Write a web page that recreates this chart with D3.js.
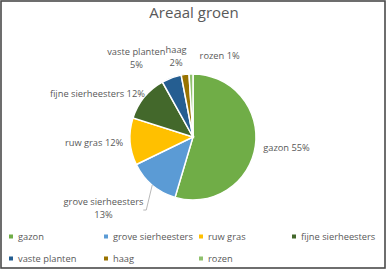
<!DOCTYPE html>
<html>
<head>
<meta charset="utf-8">
<script src="https://cdn.jsdelivr.net/npm/d3@7"></script>
<style>
  body { margin: 0; background: #fff; }
  svg text { font-family: "Open Sans", "Noto Sans", sans-serif; fill: #595959; }
</style>
</head>
<body>
<svg id="chart" width="387" height="270"></svg>
<script>
  // chart data
  var categories = ["gazon", "grove sierheesters", "ruw gras", "fijne sierheesters", "vaste planten", "haag", "rozen"];
  var shares = [54.6, 13.2, 12.1, 12.0, 5.1, 2.0, 1.0];
  var pctLabels = ["55%", "13%", "12%", "12%", "5%", "2%", "1%"];
  var colors = ["#70ad47", "#5b9bd5", "#ffc000", "#43682b", "#255e91", "#997300", "#8fc16d"];

  // label layout: [dx, dy, anchor, twoLines] relative to the outer point of each slice
  var labelLayout = [
    [-4, 3, "start", false],
    [-41, 11, "middle", true],
    [5, 3.5, "end", false],
    [10, 7, "end", false],
    [-31, -11.5, "middle", true],
    [-7.5, -9.5, "middle", true],
    [29, -3, "middle", false]
  ];

  var width = 387, height = 270;
  var svg = d3.select("#chart");

  // frame
  svg.append("rect")
    .attr("x", 1).attr("y", 1)
    .attr("width", width - 3).attr("height", height - 3)
    .attr("fill", "#fff")
    .attr("stroke", "#4a4a4a")
    .attr("stroke-width", 1.6);

  svg.append("text")
    .attr("x", 194).attr("y", 18)
    .attr("text-anchor", "middle")
    .style("font-size", "15px")
    .text("Areaal groen");

  var cx = 193, cy = 137, radius = 63;

  var pie = d3.pie().sort(null).value(function(d) { return d; });
  var arcs = pie(shares);
  var arc = d3.arc().innerRadius(0).outerRadius(radius);

  var g = svg.append("g").attr("transform", "translate(" + cx + "," + cy + ")");

  g.selectAll("path.slice")
    .data(arcs)
    .enter().append("path")
    .attr("class", "slice")
    .attr("d", arc)
    .attr("fill", function(d, i) { return colors[i]; })
    .attr("stroke", "#fff")
    .attr("stroke-width", 1.5);

  // data labels
  var outer = d3.arc().innerRadius(radius + 12).outerRadius(radius + 12);
  arcs.forEach(function(d, i) {
    var p = outer.centroid(d);
    var lay = labelLayout[i];
    var x = p[0] + lay[0], y = p[1] + lay[1];
    var t = g.append("text")
      .attr("text-anchor", lay[2])
      .style("font-size", "9.3px");
    if (lay[3]) {
      t.append("tspan").attr("x", x).attr("y", y).text(categories[i]);
      t.append("tspan").attr("x", x).attr("y", y + 12.5).text(pctLabels[i]);
    } else {
      t.attr("x", x).attr("y", y).text(categories[i] + " " + pctLabels[i]);
    }
  });

  // leader line for grove sierheesters
  var rim = d3.arc().innerRadius(radius).outerRadius(radius);
  var edge = rim.centroid(arcs[1]);
  g.append("path")
    .attr("d", "M" + edge[0] + "," + edge[1] + "l-6,25l-3,0")
    .attr("fill", "none")
    .attr("stroke", "#a6a6a6")
    .attr("stroke-width", 0.8);

  // legend
  var legendX = [9, 104, 199, 292];
  var legendY = [237, 259];
  var legend = svg.append("g");
  categories.forEach(function(c, i) {
    var x = legendX[i % 4], y = legendY[Math.floor(i / 4)];
    legend.append("rect")
      .attr("x", x).attr("y", y - 2.5)
      .attr("width", 4).attr("height", 4)
      .attr("fill", colors[i]);
    legend.append("text")
      .attr("x", x + 9).attr("y", y + 3)
      .style("font-size", "9.3px")
      .text(c);
  });
</script>
</body>
</html>
